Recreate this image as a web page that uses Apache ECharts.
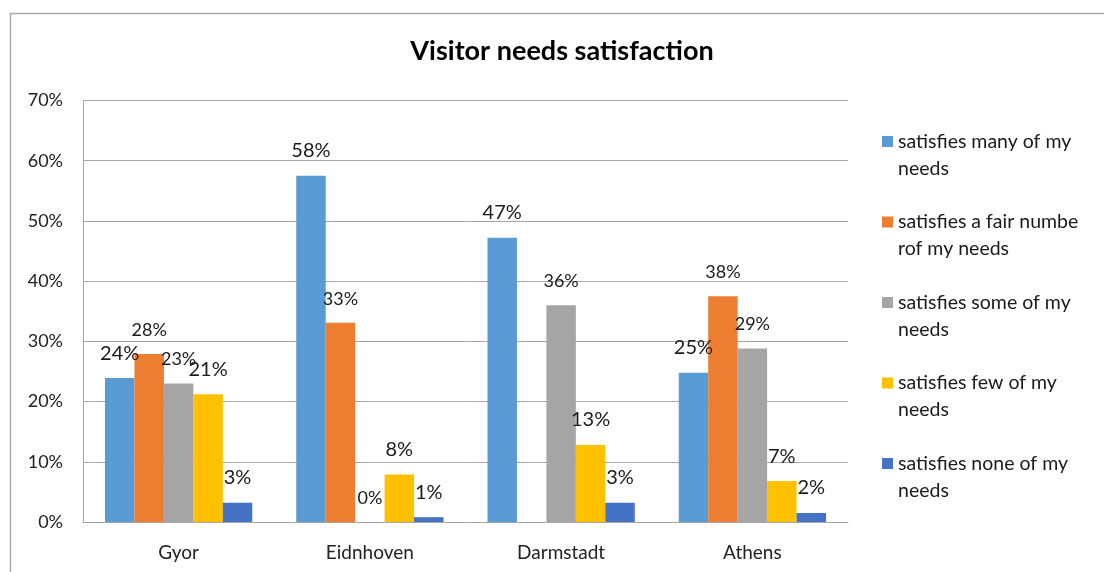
<!DOCTYPE html>
<html>
<head>
<meta charset="utf-8">
<script src="https://cdn.jsdelivr.net/npm/echarts@6/dist/echarts.min.js"></script>
<style>
  html, body { margin: 0; padding: 0; background: #fff; }
  #chart { width: 1104px; height: 572px; }
</style>
</head>
<body>
<div id="chart"></div>
<script>
// 城市（类别）
const cities = ['Gyor', 'Eidnhoven', 'Darmstadt', 'Athens'];
// 系列名称
const seriesNames = ['satisfies many of my needs', 'satisfies a fair numbe rof my needs',
    'satisfies some of my needs', 'satisfies few of my needs', 'satisfies none of my needs'];
// 图例显示的换行文字
const legendLabels = ['satisfies many of my\nneeds', 'satisfies a fair numbe\nrof my needs',
    'satisfies some of my\nneeds', 'satisfies few of my\nneeds', 'satisfies none of my\nneeds'];
// 各系列数值（百分比）
const manyValues = [23.9, 57.5, 47.2, 24.8];
const fairValues = [27.9, 33.1, null, 37.5];
const someValues = [23.0, 0, 36.0, 28.8];
const fewValues = [21.2, 7.9, 12.8, 6.8];
const noneValues = [3.2, 0.8, 3.2, 1.5];
const seriesValues = [manyValues, fairValues, someValues, fewValues, noneValues];
const seriesColors = ['#5b9bd5', '#ed7d31', '#a5a5a5', '#ffc000', '#4472c4'];
const labelSizes = [20, 18, 18, 20, 20];

const font = 'Lato, "Open Sans", sans-serif';
const myChart = echarts.init(document.getElementById('chart'));

const series = seriesNames.map((name, i) => {
    return {
        name: name,
        type: 'bar',
        data: seriesValues[i],
        barGap: '0%',
        barCategoryGap: '23%',
        itemStyle: { color: seriesColors[i] },
        label: {
            show: true,
            position: 'top',
            distance: 15,
            fontSize: labelSizes[i],
            fontFamily: font,
            color: '#1a1a1a',
            formatter: p => Math.round(p.value) + '%'
        }
    };
});

// 图例方块放在第一行文字旁边：路径下方加一个极小的点撑高包围盒
const legendIcon = 'path://M0,0L11,0L11,11L0,11Z M0,37.9L0.1,37.9L0.1,38L0,38Z';

const option = {
    animation: false,
    textStyle: { fontFamily: font },
    title: {
        text: 'Visitor needs satisfaction',
        left: 557,
        textAlign: 'center',
        top: 33,
        textStyle: { fontSize: 27, fontWeight: 'bold', color: '#000', fontFamily: font }
    },
    // 外框
    graphic: [{
        type: 'rect',
        left: 8,
        top: 11,
        shape: { width: 1200, height: 700 },
        style: { fill: 'none', stroke: '#ababab', lineWidth: 1.5 },
        silent: true
    }],
    legend: {
        orient: 'vertical',
        left: 877,
        top: 123,
        itemWidth: 11,
        itemHeight: 38,
        itemGap: 26.5,
        icon: legendIcon,
        data: seriesNames,
        formatter: name => legendLabels[seriesNames.indexOf(name)],
        textStyle: {
            fontSize: 19.5,
            lineHeight: 27,
            color: '#1a1a1a',
            fontFamily: font
        }
    },
    grid: {
        left: 83,
        right: 256,
        top: 100.5,
        bottom: 50
    },
    xAxis: {
        type: 'category',
        data: cities,
        axisLine: { lineStyle: { color: '#a6a6a6' } },
        axisTick: { show: false },
        axisLabel: { fontSize: 19, color: '#222', margin: 21, fontFamily: font }
    },
    yAxis: {
        type: 'value',
        min: 0,
        max: 70,
        interval: 10,
        axisLine: { show: true, lineStyle: { color: '#a6a6a6' } },
        axisTick: { show: false },
        axisLabel: { fontSize: 18, color: '#222', margin: 20, formatter: '{value}%', fontFamily: font },
        splitLine: { lineStyle: { color: '#a6a6a6' } }
    },
    series: series
};
myChart.setOption(option);
</script>
</body>
</html>
